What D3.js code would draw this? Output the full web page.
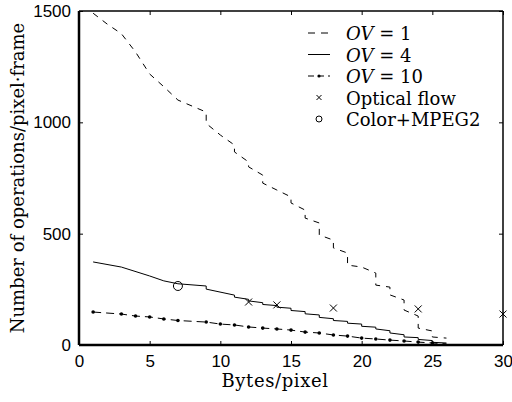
<!DOCTYPE html>
<html>
<head>
<meta charset="utf-8">
<script src="https://cdn.jsdelivr.net/npm/d3@7"></script>
<style>
  body { margin: 0; background: #fff; }
  svg { display: block; }
  .serif { font-family: "DejaVu Serif", serif; font-size: 18px; fill: #000; }
</style>
</head>
<body>
<div id="chart"></div>
<script>
/* Data */
const xTicks = [0, 5, 10, 15, 20, 25, 30]
const yTicks = [0, 500, 1000, 1500]

// OV = 1 (dashed, stair-like)
const ov1 = [
  [1, 1490], [2, 1441], [3, 1398], [4, 1316], [5, 1217], [6, 1160], [7, 1100], [8, 1073],
  [9, 1046], [9, 995], [10, 943], [11, 898], [11, 867], [12, 822], [12, 800], [13, 763],
  [13, 727], [14, 696], [15, 665], [15, 638], [16, 606], [16, 570], [17, 548], [17, 494],
  [18, 471], [18, 436], [19, 413], [19, 359], [20, 350], [21, 323], [21, 269], [22, 260],
  [22, 225], [23, 202], [23, 157], [24, 130], [24, 76], [25, 63], [25, 36], [26, 31]
]

// OV = 4 (solid)
const ov4 = [
  [1, 373], [3, 350], [5, 310], [6, 288], [7, 275], [9, 265], [9, 251], [11, 224],
  [11, 215], [12, 205], [12, 198], [13, 190], [13, 182], [14, 177], [14, 170], [15, 165],
  [15, 155], [16, 150], [16, 140], [17, 135], [17, 124], [18, 118], [18, 110], [19, 106],
  [19, 98], [20, 94], [20, 84], [21, 80], [21, 72], [22, 64], [22, 54], [23, 46],
  [23, 36], [24, 33], [24, 25], [25, 20], [25, 12], [26, 9]
]

// OV = 10 (dash + dot markers)
const ov10X = [1, 3, 4, 5, 6, 7, 9, 10, 11, 12, 13, 14, 15, 16, 17, 18, 19, 20, 21, 22, 23, 24, 25]
const ov10Y = [148, 139, 130, 126, 117, 110, 103, 94, 90, 81, 76, 72, 67, 58, 54, 45, 40, 31, 27, 22, 18, 13, 9]

const opticalFlow = [[12, 193], [14, 180], [18, 166], [24, 162], [30, 139]]
const colorMpeg = [[7, 265]]

const legendItems = [
  { ov: "1", type: "dash" },
  { ov: "4", type: "solid" },
  { ov: "10", type: "dashdot" },
  { label: "Optical flow", type: "cross" },
  { label: "Color+MPEG2", type: "circle" }
]

/* Layout */
const width = 512
const height = 402
const margin = { top: 11, right: 9, bottom: 57, left: 79 }
const innerW = width - margin.left - margin.right
const innerH = height - margin.top - margin.bottom

const svg = d3.select("#chart").append("svg")
    .attr("width", width)
    .attr("height", height)

const g = svg.append("g")
    .attr("transform", `translate(${margin.left},${margin.top})`)

const x = d3.scaleLinear().domain([0, 30]).range([0, innerW])
const y = d3.scaleLinear().domain([0, 1500]).range([innerH, 0])

const line = d3.line().x(d => x(d[0])).y(d => y(d[1]))

// series
g.append("path")
    .datum(ov1)
    .attr("d", line)
    .attr("fill", "none")
    .attr("stroke", "#000")
    .attr("stroke-width", 1)
    .attr("stroke-dasharray", "6,6")

g.append("path")
    .datum(ov4)
    .attr("d", line)
    .attr("fill", "none")
    .attr("stroke", "#000")
    .attr("stroke-width", 1)

const ov10 = ov10X.map((d, i) => [d, ov10Y[i]])
g.append("path")
    .datum(ov10.concat([[26, 5]]))
    .attr("d", line)
    .attr("fill", "none")
    .attr("stroke", "#000")
    .attr("stroke-width", 1)
    .attr("stroke-dasharray", "8,5")

g.selectAll(".ov10dot")
  .data(ov10)
  .join("circle")
    .attr("class", "ov10dot")
    .attr("cx", d => x(d[0]))
    .attr("cy", d => y(d[1]))
    .attr("r", 1.8)
    .attr("fill", "#000")

const cross = (sel, cx, cy, s) => {
  sel.append("path")
      .attr("d", `M${cx - s},${cy - s}L${cx + s},${cy + s}M${cx - s},${cy + s}L${cx + s},${cy - s}`)
      .attr("stroke", "#000")
      .attr("stroke-width", 1)
}

opticalFlow.forEach(d => cross(g, x(d[0]), y(d[1]), 3.5))

g.selectAll(".mpeg")
  .data(colorMpeg)
  .join("circle")
    .attr("class", "mpeg")
    .attr("cx", d => x(d[0]))
    .attr("cy", d => y(d[1]))
    .attr("r", 4.5)
    .attr("fill", "none")
    .attr("stroke", "#000")

// axes (ticks inward, box)
const tickLen = 4
const fmt = d3.format("d")
g.append("g")
    .attr("transform", `translate(0,${innerH})`)
    .call(d3.axisBottom(x).tickValues(xTicks).tickFormat(fmt).tickSizeInner(-tickLen).tickSizeOuter(0).tickPadding(10))
g.append("g")
    .call(d3.axisLeft(y).tickValues(yTicks).tickFormat(fmt).tickSizeInner(-tickLen).tickSizeOuter(0).tickPadding(8))
g.append("g")
    .call(d3.axisTop(x).tickValues(xTicks).tickSizeInner(-tickLen).tickSizeOuter(0).tickFormat(""))
g.append("g")
    .attr("transform", `translate(${innerW},0)`)
    .call(d3.axisRight(y).tickValues(yTicks).tickSizeInner(-tickLen).tickSizeOuter(0).tickFormat(""))

g.selectAll(".domain").remove()
g.selectAll(".tick line").attr("stroke", "#000")
g.selectAll(".tick text")
    .attr("fill", "#000")
    .attr("font-family", "'Liberation Sans', Arial, sans-serif")
    .attr("font-size", 17)

// box: left & bottom heavier
g.append("line").attr("x1", 0).attr("x2", innerW).attr("y1", 0).attr("y2", 0)
    .attr("stroke", "#000").attr("stroke-width", 1.5)
g.append("line").attr("x1", innerW).attr("x2", innerW).attr("y1", 0).attr("y2", innerH)
    .attr("stroke", "#000").attr("stroke-width", 1.5)
g.append("line").attr("x1", 0).attr("x2", innerW).attr("y1", innerH).attr("y2", innerH)
    .attr("stroke", "#000").attr("stroke-width", 2.5)
g.append("line").attr("x1", 0).attr("x2", 0).attr("y1", 0).attr("y2", innerH)
    .attr("stroke", "#000").attr("stroke-width", 2.5)

// axis titles
svg.append("text")
    .attr("class", "serif")
    .attr("x", 275)
    .attr("y", 387)
    .attr("text-anchor", "middle")
    .attr("letter-spacing", 0.6)
    .text("Bytes/pixel")

svg.append("text")
    .attr("class", "serif")
    .attr("transform", `translate(24,${margin.top + innerH / 2}) rotate(-90)`)
    .attr("text-anchor", "middle")
    .text("Number of operations/pixel\u00b7frame")

// legend
const legend = svg.append("g")
legendItems.forEach((item, i) => {
  const ly = 33 + i * 21.5
  const x0 = 308, x1 = 330, xm = 319
  if (item.type === "dash") {
    legend.append("line").attr("x1", x0).attr("x2", x1).attr("y1", ly).attr("y2", ly)
        .attr("stroke", "#000").attr("stroke-dasharray", "7,6")
  } else if (item.type === "solid") {
    legend.append("line").attr("x1", x0).attr("x2", x1).attr("y1", ly).attr("y2", ly)
        .attr("stroke", "#000")
  } else if (item.type === "dashdot") {
    legend.append("line").attr("x1", x0).attr("x2", x1).attr("y1", ly).attr("y2", ly)
        .attr("stroke", "#000").attr("stroke-dasharray", "6,4")
    legend.append("circle").attr("cx", xm).attr("cy", ly).attr("r", 1.6).attr("fill", "#000")
  } else if (item.type === "cross") {
    cross(legend, xm, ly, 2.5)
  } else if (item.type === "circle") {
    legend.append("circle").attr("cx", xm).attr("cy", ly).attr("r", 3)
        .attr("fill", "none").attr("stroke", "#000")
  }
  const t = legend.append("text")
      .attr("class", "serif")
      .attr("x", 346)
      .attr("y", ly + 7)
  if (item.ov) {
    t.append("tspan").attr("font-style", "italic").text("OV")
    t.append("tspan").text(" = " + item.ov)
  } else {
    t.text(item.label)
  }
})
</script>
</body>
</html>
